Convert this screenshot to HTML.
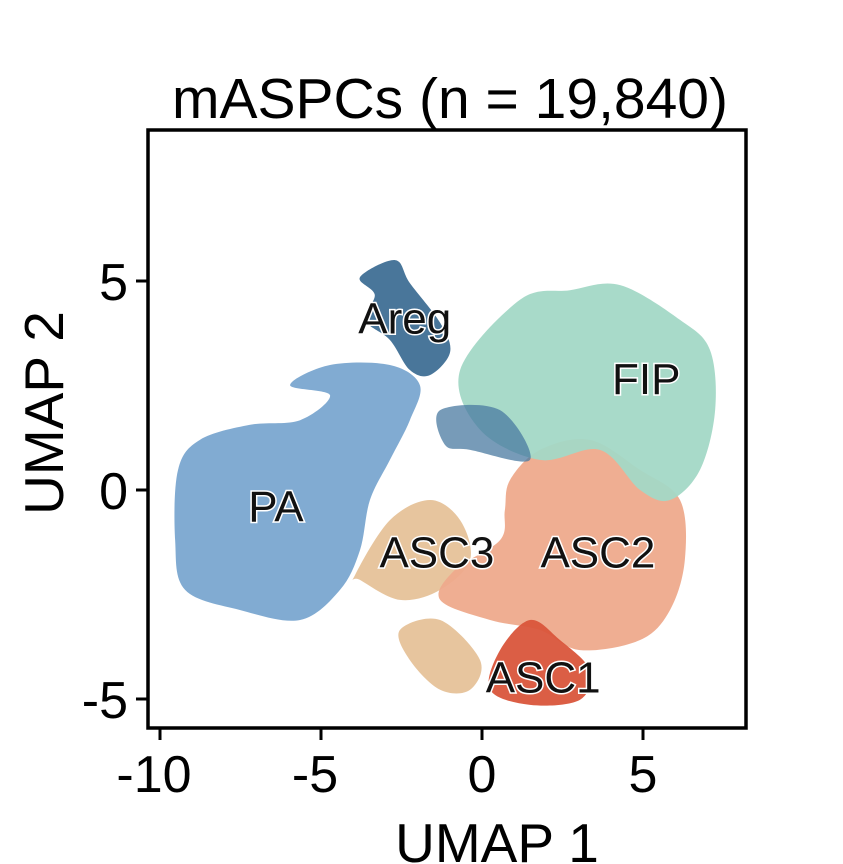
<!DOCTYPE html>
<html><head><meta charset="utf-8"><style>
html,body{margin:0;padding:0;background:#fff;}
svg{display:block;font-family:"Liberation Sans",Arial,sans-serif;}
</style></head><body>
<svg id="chart" width="843" height="864" viewBox="0 0 843 864">
<text x="450" y="118" text-anchor="middle" font-size="57">mASPCs (n = 19,840)</text>
<g id="clusters"></g>
<g id="labels"></g>
<rect x="148" y="130" width="598" height="598" fill="none" stroke="#000" stroke-width="3.5"/>
<g id="axes"></g>
<text x="497" y="862" text-anchor="middle" font-size="55">UMAP 1</text>
<text transform="translate(63,413) rotate(-90)" text-anchor="middle" font-size="55">UMAP 2</text>
</svg>
<script>
const clusterNames = ["ASC3", "ASC3b", "ASC2", "ASC1", "FIP", "PA", "Areg", "Aregb"];
const clusterColors = ["#e6c299", "#e6c299", "#eeaa8c", "#d9553b", "#a3d8c6", "#7aa7d0", "#3f6f95", "#4a7aa0"];
const clusterX = [
 [-3.94,-2.86,-1.61,-0.68,-0.37,-1.3,-2.55,-3.79],
 [-2.55,-1.3,-0.06,-0.37,-1.3,-2.24],
 [0.87,1.8,3.35,4.91,6.15,6.3,5.84,4.91,3.04,1.8,0.25,-1.3,-0.84,0.56,0.71],
 [0.56,1.49,2.42,3.35,3.04,1.49,0.25],
 [-0.68,1.18,2.73,4.29,6.15,7.08,7.24,6.77,5.84,4.91,3.66,1.8,-0.06],
 [-9.44,-8.76,-7.2,-5.65,-4.72,-5.96,-4.72,-2.86,-1.93,-2.24,-2.86,-3.48,-3.79,-4.41,-5.65,-7.52,-9.22,-9.53],
 [-3.79,-2.7,-2.24,-1.3,-0.99,-1.61,-2.24,-2.86,-3.63,-3.33],
 [-1.3,0.56,1.49,-0.37,-1.15]
];
const clusterY = [
 [-2.03,-0.72,-0.24,-0.72,-1.67,-2.39,-2.63,-2.15],
 [-3.35,-3.11,-4.07,-4.78,-4.78,-4.07],
 [0.24,0.96,1.2,0.48,-0.24,-1.67,-2.87,-3.59,-3.83,-3.35,-3.11,-2.63,-1.91,-1.2,-0.48],
 [-3.83,-3.11,-3.59,-4.31,-5.02,-5.14,-4.78],
 [2.87,4.55,4.78,4.9,4.07,3.35,1.91,0.48,-0.24,0,0.96,0.72,1.44],
 [0.48,1.2,1.56,1.67,2.27,2.51,2.99,2.99,2.51,1.67,0.72,-0.24,-1.44,-2.39,-3.11,-2.87,-2.39,-1.2],
 [5.09,5.5,4.95,4.0,3.3,2.75,2.87,3.59,4.07,4.67],
 [1.91,1.91,0.72,0.96,1.08]
];
const labelText = ["Areg","FIP","PA","ASC3","ASC2","ASC1"];
const labelX = [-2.4, 5.1, -6.4, -1.4, 3.6, 1.9];
const labelY = [3.75, 2.3, -0.75, -1.85, -1.85, -4.85];
const xTicks = [-10,-5,0,5];
const yTicks = [5,0,-5];

const sx = v => 482 + v*32.2;
const sy = v => 490 - v*41.8;
const NS="http://www.w3.org/2000/svg";
function smooth(pts){
  const n=pts.length; let d=`M${pts[0][0]},${pts[0][1]}`;
  for(let i=0;i<n;i++){
    const p0=pts[(i-1+n)%n],p1=pts[i],p2=pts[(i+1)%n],p3=pts[(i+2)%n];
    const c1=[p1[0]+(p2[0]-p0[0])/6,p1[1]+(p2[1]-p0[1])/6];
    const c2=[p2[0]-(p3[0]-p1[0])/6,p2[1]-(p3[1]-p1[1])/6];
    d+=`C${c1[0]},${c1[1]} ${c2[0]},${c2[1]} ${p2[0]},${p2[1]}`;
  }
  return d+"Z";
}
const cg=document.getElementById('clusters');
clusterNames.forEach((nm,i)=>{
  const pts=clusterX[i].map((x,j)=>[sx(x),sy(clusterY[i][j])]);
  const p=document.createElementNS(NS,'path');
  p.setAttribute('d',smooth(pts));
  p.setAttribute('fill',clusterColors[i]);
  p.setAttribute('fill-opacity', nm==="Aregb"?0.75:0.95);
  
  
  cg.appendChild(p);
});
const lg=document.getElementById('labels');
labelText.forEach((t,i)=>{
  const e=document.createElementNS(NS,'text');
  e.setAttribute('x',sx(labelX[i]));e.setAttribute('y',sy(labelY[i]));
  e.setAttribute('text-anchor','middle');e.setAttribute('font-size','44');
  e.setAttribute('fill','#111');e.setAttribute('stroke','#fff');e.setAttribute('stroke-width','3');
  e.setAttribute('paint-order','stroke');
  e.textContent=t;
  
  
  lg.appendChild(e);
});
const ag=document.getElementById('axes');
xTicks.forEach(v=>{
  const l=document.createElementNS(NS,'line');
  l.setAttribute('x1',sx(v));l.setAttribute('x2',sx(v));l.setAttribute('y1',728);l.setAttribute('y2',740);
  l.setAttribute('stroke','#000');l.setAttribute('stroke-width','3');
  
  
  ag.appendChild(l);
  const t=document.createElementNS(NS,'text');
  t.setAttribute('x',sx(v)-(v<0?6:0));t.setAttribute('y',792);t.setAttribute('text-anchor','middle');t.setAttribute('font-size','52');
  t.textContent=v;
  
  
  ag.appendChild(t);
});
yTicks.forEach(v=>{
  const l=document.createElementNS(NS,'line');
  l.setAttribute('x1',136);l.setAttribute('x2',148);l.setAttribute('y1',sy(v));l.setAttribute('y2',sy(v));
  l.setAttribute('stroke','#000');l.setAttribute('stroke-width','3');
  
  
  ag.appendChild(l);
  const t=document.createElementNS(NS,'text');
  t.setAttribute('x',128);t.setAttribute('y',sy(v)+19);t.setAttribute('text-anchor','end');t.setAttribute('font-size','52');
  t.textContent=v;
  
  
  ag.appendChild(t);
});
</script>
</body></html>
